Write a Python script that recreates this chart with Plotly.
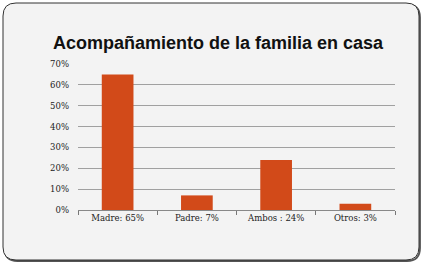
import plotly.graph_objects as go

categories = ["Madre: 65%", "Padre: 7%", "Ambos : 24%", "Otros: 3%"]
values = [65, 7, 24, 3]
y_ticks = [0, 10, 20, 30, 40, 50, 60, 70]
y_tick_labels = ["0%", "10%", "20%", "30%", "40%", "50%", "60%", "70%"]
title_text = "Acompañamiento de la familia en casa"

W, H = 424, 267
L, R, T, B = 78, 395, 64, 210  # plot area pixel bounds


def px(x):
    return (x - L) / (R - L)


def py(y):
    return (B - y) / (B - T)


def rounded_path(x0, y0, x1, y1, r):
    pts = [
        f"M {px(x0 + r)} {py(y0)}",
        f"L {px(x1 - r)} {py(y0)}",
        f"Q {px(x1)} {py(y0)} {px(x1)} {py(y0 + r)}",
        f"L {px(x1)} {py(y1 - r)}",
        f"Q {px(x1)} {py(y1)} {px(x1 - r)} {py(y1)}",
        f"L {px(x0 + r)} {py(y1)}",
        f"Q {px(x0)} {py(y1)} {px(x0)} {py(y1 - r)}",
        f"L {px(x0)} {py(y0 + r)}",
        f"Q {px(x0)} {py(y0)} {px(x0 + r)} {py(y0)}",
        "Z",
    ]
    return " ".join(pts)


fig = go.Figure(
    go.Bar(
        x=categories,
        y=values,
        marker=dict(color="#D24A19", line=dict(width=0)),
        width=0.4,
    )
)

fig.update_layout(
    width=W,
    height=H,
    margin=dict(l=L, r=W - R, t=T, b=H - B, pad=0),
    paper_bgcolor="white",
    plot_bgcolor="rgba(0,0,0,0)",
    showlegend=False,
    title=dict(
        text=title_text,
        font=dict(family="Liberation Sans", size=18, color="#111", weight="bold"),
        x=218 / W,
        xref="container",
        xanchor="center",
        y=1 - 43 / H,
        yref="container",
        yanchor="middle",
    ),
    bargap=0.6,
    shapes=[
        dict(
            type="path",
            path=rounded_path(4.5, 4.5, 420, 261, 13),
            xref="paper",
            yref="paper",
            line=dict(color="#555", width=1.8),
            fillcolor="rgba(0,0,0,0)",
            layer="below",
        ),
        dict(
            type="path",
            path=rounded_path(3, 3, 419, 260, 13),
            xref="paper",
            yref="paper",
            line=dict(color="#333", width=1),
            fillcolor="#F3F3F3",
            layer="below",
        ),
    ],
)

fig.update_xaxes(
    type="category",
    tickson="boundaries",
    ticks="outside",
    ticklen=4,
    tickcolor="#777",
    showline=True,
    linecolor="#888",
    linewidth=1.2,
    showgrid=False,
    tickfont=dict(family="DejaVu Serif", size=8.5, color="#222"),
)

fig.update_yaxes(
    range=[0, 70],
    tickvals=y_ticks,
    ticktext=y_tick_labels,
    showgrid=True,
    gridcolor="#A0A0A0",
    gridwidth=1.3,
    zeroline=False,
    showline=False,
    ticks="",
    ticklabelstandoff=8,
    tickfont=dict(family="DejaVu Serif", size=8.5, color="#222"),
)

fig.write_html(
    "out.html",
    config={"displayModeBar": False},
    post_script="document.body.style.margin='0';document.body.style.padding='0';",
)
